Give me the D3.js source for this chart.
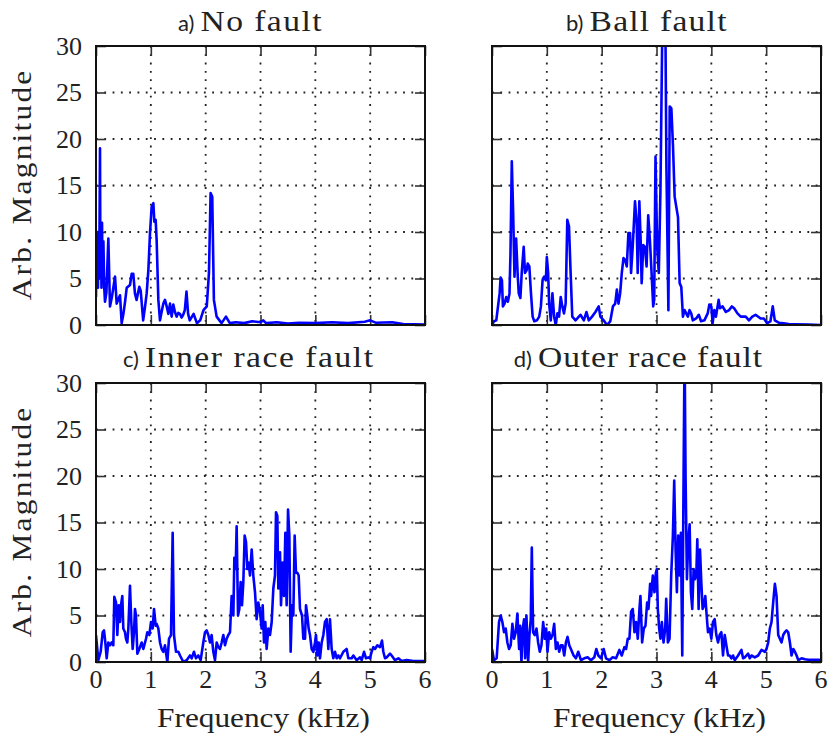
<!DOCTYPE html>
<html><head><meta charset="utf-8">
<script src="https://cdn.jsdelivr.net/npm/d3@7"></script>
<style>body{margin:0;background:#fff}svg{display:block}text.serif{font-family:"Liberation Serif","Times New Roman",serif}</style>
</head><body>
<svg id="chart" width="833" height="738"></svg>
<script>
// ---------- data ----------
const xTicks = [0, 1, 2, 3, 4, 5, 6];
const yTicks = [0, 5, 10, 15, 20, 25, 30];
const prefixes = ["a)", "b)", "c)", "d)"];
const titles = ["No fault", "Ball fault", "Inner race fault", "Outer race fault"];
const xLabel = "Frequency (kHz)";
const yLabel = "Arb. Magnitude";

// a) No fault
const freqA = [0,0.006,0.012,0.018,0.024,0.030,0.036,0.042,0.050,0.060,0.073,0.080,0.090,0.100,0.110,0.120,0.135,0.150,0.164,0.190,0.225,0.255,0.290,0.316,0.347,0.377,0.410,0.438,0.468,0.500,0.530,0.560,0.620,0.650,0.680,0.710,0.740,0.790,0.815,0.860,0.895,0.924,0.955,0.985,1.015,1.046,1.064,1.088,1.106,1.137,1.167,1.200,1.228,1.258,1.289,1.320,1.350,1.380,1.410,1.440,1.470,1.500,1.530,1.560,1.590,1.620,1.650,1.680,1.710,1.780,1.840,1.900,1.960,2.020,2.060,2.090,2.120,2.150,2.200,2.290,2.370,2.440,2.550,2.700,2.850,3.000,3.050,3.100,3.300,3.500,3.700,4.000,4.300,4.600,4.900,5.000,5.100,5.400,5.600,6.000];
const magA = [3,10,4,9,4.5,10,4,8,5,6,19,6,11,4,11,4.5,9,4,2.5,3.5,9.3,2,3,4,5.2,2.3,2.8,3.2,0.2,1.2,2.5,4,4.3,5.5,5.5,3.4,2.7,4.1,3.7,0.5,2,3.4,5.9,9.9,12.7,13.1,11.1,11.3,9.1,2.7,0.5,1.5,2.3,2.7,2,1.2,2.3,0.9,2.2,1.4,0.9,1.3,1.2,0.8,1.1,1.6,3.6,1.2,0.5,1.2,0.2,0.5,1.6,2.0,5.6,14.2,13.8,2.7,0.9,0.2,0.9,0.2,0.3,0.2,0.4,0.3,0.5,0.2,0.3,0.15,0.25,0.2,0.3,0.2,0.35,0.5,0.25,0.3,0.1,0.05];

// b) Ball fault
const freqB = [0,0.036,0.078,0.139,0.157,0.181,0.199,0.229,0.259,0.289,0.319,0.337,0.361,0.386,0.410,0.440,0.470,0.488,0.518,0.542,0.578,0.602,0.633,0.651,0.681,0.711,0.741,0.771,0.819,0.861,0.892,0.922,0.952,0.982,1.000,1.024,1.042,1.072,1.102,1.133,1.163,1.193,1.223,1.253,1.283,1.313,1.343,1.373,1.404,1.434,1.464,1.524,1.584,1.614,1.675,1.723,1.765,1.825,1.886,1.946,1.976,2.036,2.096,2.157,2.205,2.247,2.277,2.307,2.337,2.367,2.398,2.428,2.458,2.488,2.518,2.536,2.566,2.608,2.639,2.657,2.687,2.711,2.729,2.759,2.789,2.819,2.849,2.880,2.910,2.940,2.958,2.982,3.012,3.042,3.072,3.110,3.160,3.181,3.217,3.241,3.271,3.301,3.331,3.361,3.392,3.422,3.452,3.482,3.512,3.572,3.602,3.633,3.663,3.723,3.771,3.813,3.873,3.934,3.964,4.000,4.024,4.054,4.084,4.133,4.157,4.205,4.265,4.325,4.373,4.416,4.476,4.536,4.627,4.687,4.747,4.807,4.898,4.958,5.018,5.078,5.120,5.157,5.229,5.319,5.410,5.530,5.770,6.000];
const magB = [0,0.4,0.5,3.4,5.1,4.8,2.0,2.3,3.0,2.5,3.4,7.7,17.6,12,5.2,9.3,5.2,3.4,2.9,5.6,8.4,5.6,5.9,6.6,6.3,3.4,0.9,0.4,0.5,0.9,2.0,4.8,5.2,4.8,7.3,5.6,2.3,0.5,3.4,0.9,0,1.25,0.9,3.0,2.0,1.25,2.3,11.3,10.6,5.6,0.9,0.5,0.9,1.1,0.5,1.4,0.5,0.9,1.4,2.0,0.9,0.5,0,0.4,2.0,2.3,3.8,2.3,3.4,5.6,7.2,7.0,6.3,9.9,9.9,5.6,8.4,13.3,10.9,5.6,13.3,9.1,4.5,8.6,8.4,6.3,11.8,9.1,5.6,2.0,2.7,18.1,8.4,5.6,14.5,34,34,17,1.6,23.5,23.3,19.2,13.8,12.7,11.6,4.5,4.1,0.9,1.6,0.9,1.6,1.25,0.5,0.7,1.1,0.4,0.5,1.25,2.2,2.0,0.2,1.6,0.9,2.7,1.8,2.0,1.4,1.6,2.0,1.8,1.25,0.9,0.9,0.5,0.9,1.1,0.7,0.7,0.2,0.4,2.0,0.5,0.25,0.18,0.1,0.07,0.04,0];

// c) Inner race fault
const freqC = [0.000,0.043,0.085,0.122,0.146,0.170,0.195,0.225,0.255,0.286,0.316,0.334,0.365,0.389,0.413,0.438,0.456,0.480,0.498,0.529,0.547,0.571,0.590,0.620,0.644,0.669,0.693,0.711,0.729,0.754,0.790,0.833,0.863,0.912,0.936,0.973,1.003,1.033,1.058,1.088,1.106,1.137,1.167,1.198,1.228,1.258,1.301,1.331,1.368,1.398,1.422,1.459,1.502,1.532,1.593,1.653,1.714,1.745,1.787,1.824,1.866,1.909,1.957,1.988,2.018,2.049,2.079,2.109,2.140,2.170,2.201,2.231,2.261,2.292,2.322,2.353,2.383,2.413,2.444,2.474,2.505,2.523,2.547,2.565,2.590,2.614,2.638,2.663,2.687,2.711,2.736,2.760,2.784,2.809,2.839,2.869,2.900,2.930,2.960,2.991,3.021,3.040,3.064,3.088,3.112,3.143,3.173,3.204,3.234,3.264,3.283,3.307,3.325,3.356,3.374,3.404,3.429,3.453,3.477,3.502,3.526,3.550,3.574,3.599,3.623,3.647,3.672,3.696,3.720,3.757,3.781,3.812,3.830,3.854,3.878,3.903,3.933,3.964,3.994,4.012,4.036,4.061,4.085,4.116,4.146,4.176,4.207,4.237,4.267,4.298,4.328,4.359,4.389,4.419,4.450,4.511,4.571,4.602,4.663,4.693,4.754,4.815,4.845,4.888,4.924,4.967,4.997,5.027,5.058,5.088,5.131,5.179,5.216,5.240,5.271,5.301,5.362,5.392,5.453,5.514,5.574,5.666,5.787,6.000];
const magC = [2.9,0.2,1.1,3.2,3.4,2.1,0.4,2.1,1.8,2.1,1.8,7.0,6.4,2.9,6.1,4.3,6.1,7.1,3.6,3.2,2.5,2.1,3.6,8.2,4.3,1.4,3.2,5.7,5.0,0.9,1.4,2.1,1.4,2.5,3.2,2.9,4.3,3.6,5.7,3.9,4.1,3.6,2.1,1.4,1.1,1.8,0.0,2.5,2.9,13.9,2.9,1.1,1.1,0.7,0.0,0.2,0.7,0.4,1.1,0.4,0.7,0.2,2.1,3.2,3.4,2.9,2.1,2.9,1.1,0.2,2.1,1.6,1.4,2.1,2.9,1.8,2.5,2.9,3.2,7.1,5.0,11.2,10.0,14.6,5.0,5.7,8.6,6.1,8.6,13.6,12.9,10.0,10.7,9.3,12.1,9.3,7.5,4.6,6.4,5.4,3.6,6.1,2.1,4.3,1.4,3.6,2.9,4.3,7.9,9.3,16.1,15.7,7.9,11.8,6.1,10.7,7.1,13.9,6.1,16.4,13.6,1.1,6.1,5.0,13.6,9.6,9.6,9.3,5.7,5.0,2.5,2.5,6.1,5.0,3.6,2.9,1.4,1.1,2.1,2.9,0.7,2.1,0.4,2.1,2.9,4.3,4.6,1.4,4.6,1.4,0.4,1.1,0.4,0.7,0.4,1.1,1.4,0.4,0.4,0.7,0.2,0.5,0.2,1.1,0.4,0.5,0.4,1.1,1.6,1.4,1.8,1.6,2.3,1.1,0.4,0.5,0.9,0.7,0.2,0.4,0.1,0.2,0.1,0.1];

// d) Outer race fault
const freqD = [0.000,0.037,0.085,0.128,0.159,0.189,0.220,0.250,0.280,0.311,0.341,0.372,0.402,0.433,0.463,0.494,0.512,0.537,0.561,0.585,0.604,0.628,0.659,0.683,0.707,0.726,0.750,0.780,0.811,0.841,0.872,0.902,0.933,0.963,0.988,1.012,1.043,1.073,1.104,1.134,1.165,1.195,1.226,1.256,1.287,1.317,1.348,1.378,1.409,1.439,1.488,1.530,1.573,1.622,1.683,1.744,1.805,1.866,1.902,1.939,1.988,2.037,2.079,2.140,2.201,2.262,2.323,2.366,2.415,2.445,2.476,2.506,2.537,2.567,2.598,2.628,2.659,2.689,2.707,2.738,2.768,2.799,2.829,2.854,2.884,2.902,2.933,2.963,2.988,3.006,3.024,3.049,3.073,3.098,3.128,3.159,3.177,3.207,3.238,3.268,3.299,3.323,3.348,3.372,3.396,3.421,3.445,3.470,3.494,3.512,3.530,3.555,3.579,3.604,3.628,3.652,3.677,3.701,3.726,3.744,3.768,3.793,3.817,3.841,3.866,3.890,3.915,3.939,3.970,4.000,4.030,4.061,4.091,4.122,4.152,4.183,4.213,4.244,4.274,4.305,4.335,4.366,4.396,4.427,4.488,4.549,4.579,4.610,4.671,4.701,4.732,4.793,4.854,4.915,4.976,5.006,5.037,5.067,5.098,5.128,5.159,5.189,5.220,5.250,5.280,5.311,5.341,5.372,5.402,5.433,5.463,5.494,5.524,5.555,5.585,5.646,5.707,5.768,5.951,6.000];
const magD = [1.4,0.2,0.4,4.3,5.0,4.3,3.2,3.6,2.1,1.4,1.8,4.1,2.5,3.2,5.2,1.4,3.9,0.0,3.6,4.6,0.4,5.0,0.0,2.9,4.6,12.3,3.2,2.9,3.6,2.1,1.1,1.8,4.3,2.5,3.6,1.1,3.2,2.5,2.9,4.1,1.4,2.1,1.1,1.8,1.8,0.7,2.1,2.7,1.8,1.4,0.7,0.4,1.1,0.2,0.4,0.5,0.2,0.5,1.4,0.7,0.4,1.4,0.4,0.2,0.5,0.4,1.3,0.7,1.6,1.4,2.5,2.5,5.4,5.7,3.2,4.3,2.5,5.7,7.1,2.1,3.6,3.9,6.4,5.7,8.4,7.1,9.3,7.5,9.6,10.0,5.7,3.6,2.5,4.3,2.1,3.6,6.8,2.1,2.5,9.3,13.6,19.5,12.1,7.5,13.6,9.3,13.9,0.7,20.0,34,20.0,8.9,12.9,14.8,7.5,5.7,10.0,8.9,9.3,13.2,5.7,12.1,8.6,5.7,6.1,7.1,5.0,3.2,3.6,2.5,4.3,4.6,2.9,2.1,2.9,3.2,0.7,2.9,1.8,0.7,0.7,0.4,0.7,0.2,0.7,1.3,0.4,0.5,0.9,0.4,0.7,0.5,0.7,1.3,1.1,1.4,2.1,3.6,4.3,6.4,8.4,7.1,2.9,2.5,2.1,2.9,3.2,3.4,3.2,2.1,0.7,1.4,1.1,0.7,0.2,0.4,0.3,0.25,0.25,0.2];

// ---------- layout ----------
const panels = [
  {f: freqA, m: magA, x0: 96,  x1: 425, y0: 46,  y1: 325, yAxis: true,  xAxis: false, titleX: 261, titleY: 31, tLen: 121},
  {f: freqB, m: magB, x0: 492, x1: 821, y0: 46,  y1: 325, yAxis: false, xAxis: false, titleX: 658, titleY: 31, tLen: 137},
  {f: freqC, m: magC, x0: 96,  x1: 425, y0: 383, y1: 662, yAxis: true,  xAxis: true,  titleX: 259, titleY: 367, tLen: 228},
  {f: freqD, m: magD, x0: 492, x1: 821, y0: 383, y1: 662, yAxis: false, xAxis: true,  titleX: 650, titleY: 367, tLen: 224}
];

const svg = d3.select("#chart");
const textCol = "#222";

// wide, light lettering: a modest horizontal stretch plus letter spacing
function fitText(sel, len, natural) {
  sel.attr("textLength", len).attr("lengthAdjust", "spacing");
}

panels.forEach((p, i) => {
  const x = d3.scaleLinear().domain([0, 6]).range([p.x0, p.x1]);
  const y = d3.scaleLinear().domain([0, 30]).range([p.y1, p.y0]);
  const g = svg.append("g");

  const cid = "clip" + i;
  svg.append("defs").append("clipPath").attr("id", cid)
    .append("rect").attr("x", p.x0).attr("y", p.y0)
    .attr("width", p.x1 - p.x0).attr("height", p.y1 - p.y0);

  // dotted grid
  g.append("g").selectAll("line").data(xTicks.slice(1, -1)).join("line")
    .attr("x1", d => x(d)).attr("x2", d => x(d))
    .attr("y1", p.y0).attr("y2", p.y1)
    .attr("stroke", "#222").attr("stroke-width", 1.8)
    .attr("stroke-dasharray", "1.8,6.5");
  g.append("g").selectAll("line").data(yTicks.slice(1, -1)).join("line")
    .attr("x1", p.x0).attr("x2", p.x1)
    .attr("y1", d => y(d)).attr("y2", d => y(d))
    .attr("stroke", "#222").attr("stroke-width", 1.8)
    .attr("stroke-dasharray", "1.8,6.5");

  // inward ticks on all four sides
  const tl = 10;
  const axB = g.append("g").attr("transform", `translate(0,${p.y1})`)
    .call(d3.axisBottom(x).tickValues(xTicks).tickSizeInner(-tl).tickSizeOuter(0).tickFormat(""));
  const axT = g.append("g").attr("transform", `translate(0,${p.y0})`)
    .call(d3.axisTop(x).tickValues(xTicks).tickSizeInner(-tl).tickSizeOuter(0).tickFormat(""));
  const axL = g.append("g").attr("transform", `translate(${p.x0},0)`)
    .call(d3.axisLeft(y).tickValues(yTicks).tickSizeInner(-tl).tickSizeOuter(0).tickFormat(""));
  const axR = g.append("g").attr("transform", `translate(${p.x1},0)`)
    .call(d3.axisRight(y).tickValues(yTicks).tickSizeInner(-tl).tickSizeOuter(0).tickFormat(""));
  [axB, axT, axL, axR].forEach(a => {
    a.select(".domain").remove();
    a.selectAll(".tick line").attr("stroke", "#333").attr("stroke-width", 1.6);
  });

  // spectrum line
  const n = Math.min(p.f.length, p.m.length);
  const pts = d3.range(n).map(k => [p.f[k], p.m[k]]);
  g.append("path").datum(pts)
    .attr("clip-path", `url(#${cid})`)
    .attr("fill", "none").attr("stroke", "#0000ff").attr("stroke-width", 2.6)
    .attr("stroke-linejoin", "round")
    .attr("d", d3.line().x(d => x(d[0])).y(d => y(d[1])));

  // frame
  g.append("rect").attr("x", p.x0).attr("y", p.y0)
    .attr("width", p.x1 - p.x0).attr("height", p.y1 - p.y0)
    .attr("fill", "none").attr("stroke", "#111").attr("stroke-width", 2);

  if (p.yAxis) {
    g.append("g").selectAll("text").data(yTicks).join("text").attr("class", "serif")
      .attr("x", p.x0 - 14).attr("y", d => y(d) + 8.5)
      .attr("text-anchor", "end").attr("font-size", 26)
      .attr("fill", textCol).text(d => d);
    g.append("text").attr("class", "serif")
      .attr("transform", `translate(31,${(p.y0 + p.y1) / 2}) rotate(-90) scale(1.12,1)`)
      .attr("text-anchor", "middle").attr("font-size", 28)
      .attr("textLength", 205).attr("lengthAdjust", "spacing")
      .attr("fill", textCol).text(yLabel);
  }
  if (p.xAxis) {
    g.append("g").selectAll("text").data(xTicks).join("text").attr("class", "serif")
      .attr("x", d => x(d)).attr("y", p.y1 + 26)
      .attr("text-anchor", "middle").attr("font-size", 26)
      .attr("fill", textCol).text(d => d);
    g.append("text").attr("class", "serif")
      .attr("transform", `translate(${(p.x0 + p.x1) / 2 + 3},${p.y1 + 65}) scale(1.12,1)`)
      .attr("text-anchor", "middle").attr("font-size", 28)
      .attr("textLength", 190).attr("lengthAdjust", "spacing")
      .attr("fill", textCol).text(xLabel);
  }

  g.append("text").attr("class", "serif")
    .attr("transform", `translate(${p.titleX},${p.titleY}) scale(1.12,1)`)
    .attr("text-anchor", "middle").attr("font-size", 30)
    .attr("textLength", p.tLen / 1.12).attr("lengthAdjust", "spacing")
    .attr("fill", textCol).text(titles[i]);
  g.append("text")
    .attr("x", p.titleX - p.tLen / 2 - 6).attr("y", p.titleY)
    .attr("text-anchor", "end").attr("font-family", "Lato, 'Open Sans', sans-serif").attr("font-size", 22)
    .attr("fill", "#222").text(prefixes[i]);
});
</script>
</body></html>
